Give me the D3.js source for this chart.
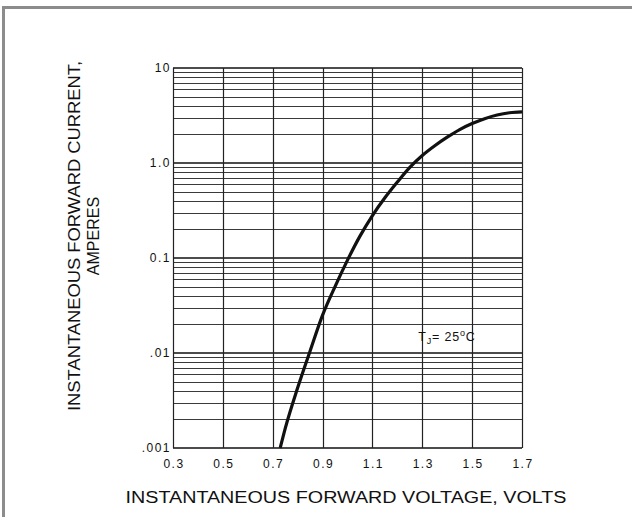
<!DOCTYPE html>
<html>
<head>
<meta charset="utf-8">
<script src="https://cdn.jsdelivr.net/npm/d3@7"></script>
<style>
  body { margin: 0; background: #fff; }
  svg text { font-family: "Liberation Sans", Arial, sans-serif; }
</style>
</head>
<body>
<svg id="chart" width="632" height="517"></svg>
<script>
// forward voltage (V) vs instantaneous forward current (A)
var voltage = [0.73, 0.75, 0.80, 0.85, 0.90, 0.95, 1.00, 1.05, 1.10, 1.15, 1.20, 1.25, 1.30, 1.35, 1.40, 1.45, 1.50, 1.55, 1.60, 1.65, 1.70];
var current = [0.001, 0.0016, 0.0043, 0.0105, 0.025, 0.05, 0.095, 0.17, 0.28, 0.43, 0.63, 0.9, 1.2, 1.52, 1.87, 2.25, 2.6, 2.93, 3.2, 3.38, 3.45];

var xTicks = [0.3, 0.5, 0.7, 0.9, 1.1, 1.3, 1.5, 1.7];
var yDecades = [0.001, 0.01, 0.1, 1, 10];
var yTickLabels = [".001", ".01", "0.1", "1.0", "10"];

var margin = {top: 68, right: 110, bottom: 69, left: 173};
var width = 632 - margin.left - margin.right;
var height = 517 - margin.top - margin.bottom;

var svg = d3.select("#chart");

// outer frame
svg.append("rect")
  .attr("x", 3.5).attr("y", 7.5)
  .attr("width", 640).attr("height", 530)
  .attr("fill", "none")
  .attr("stroke", "#8c8c8c")
  .attr("stroke-width", 3);

var g = svg.append("g")
  .attr("transform", "translate(" + margin.left + "," + margin.top + ")");

var x = d3.scaleLinear().domain([0.3, 1.7]).range([0, width]);
var y = d3.scaleLog().domain([0.001, 10]).range([height, 0]);

// horizontal grid: 2..9 in every decade
var minor = [];
yDecades.slice(0, -1).forEach(function(d) {
  for (var k = 2; k <= 9; k++) minor.push(d * k);
});

g.selectAll(".hminor").data(minor).enter().append("line")
  .attr("x1", 0).attr("x2", width)
  .attr("y1", function(d) { return Math.round(y(d)) + 0.5; })
  .attr("y2", function(d) { return Math.round(y(d)) + 0.5; })
  .attr("stroke", "#3a3a3a").attr("stroke-width", 1);

g.selectAll(".hmajor").data(yDecades).enter().append("line")
  .attr("x1", 0).attr("x2", width)
  .attr("y1", function(d) { return y(d); })
  .attr("y2", function(d) { return y(d); })
  .attr("stroke", "#111").attr("stroke-width", 1.6);

// vertical grid
g.selectAll(".vgrid").data(xTicks).enter().append("line")
  .attr("x1", function(d) { return Math.round(x(d)) + 0.5; })
  .attr("x2", function(d) { return Math.round(x(d)) + 0.5; })
  .attr("y1", 0).attr("y2", height)
  .attr("stroke", "#222").attr("stroke-width", 1.2);

// axis labels
g.selectAll(".xlab").data(xTicks).enter().append("text")
  .attr("x", function(d) { return x(d) + 1; })
  .attr("y", height + 20)
  .attr("text-anchor", "middle")
  .attr("font-size", "12px")
  .attr("letter-spacing", "1.5px")
  .attr("fill", "#111")
  .text(function(d) { return d.toFixed(1); });

g.selectAll(".ylab").data(yDecades).enter().append("text")
  .attr("x", -2)
  .attr("y", function(d) { return y(d) + 4; })
  .attr("text-anchor", "end")
  .attr("font-size", "12px")
  .attr("letter-spacing", "1.5px")
  .attr("fill", "#111")
  .text(function(d, i) { return yTickLabels[i]; });

// curve
var line = d3.line()
  .curve(d3.curveMonotoneX)
  .x(function(d, i) { return x(voltage[i]); })
  .y(function(d) { return y(d); });

g.append("path")
  .datum(current)
  .attr("d", line)
  .attr("fill", "none")
  .attr("stroke", "#111")
  .attr("stroke-width", 3.2);

// junction temperature note
var note = g.append("text")
  .attr("x", x(1.3) - 4)
  .attr("y", y(0.0135))
  .attr("font-size", "12.5px")
  .attr("letter-spacing", "0.8px")
  .attr("fill", "#111");
note.append("tspan").text("T");
note.append("tspan").attr("font-size", "9px").attr("dy", 3).text("J");
note.append("tspan").attr("dy", -3).text("= 25");
note.append("tspan").attr("font-size", "9px").attr("dy", -5).text("o");
note.append("tspan").attr("dy", 5).text("C");

// titles
svg.append("text")
  .attr("x", 346).attr("y", 503)
  .attr("text-anchor", "middle")
  .attr("font-size", "16px")
  .attr("fill", "#111")
  .attr("textLength", 441)
  .attr("lengthAdjust", "spacingAndGlyphs")
  .text("INSTANTANEOUS FORWARD VOLTAGE, VOLTS");

var yt = svg.append("g").attr("transform", "translate(0,236) rotate(-90)");
yt.append("text")
  .attr("x", 0).attr("y", 80)
  .attr("text-anchor", "middle")
  .attr("font-size", "16px")
  .attr("fill", "#111")
  .attr("textLength", 350)
  .attr("lengthAdjust", "spacingAndGlyphs")
  .text("INSTANTANEOUS FORWARD CURRENT,");
yt.append("text")
  .attr("x", 0).attr("y", 99)
  .attr("text-anchor", "middle")
  .attr("font-size", "16px")
  .attr("fill", "#111")
  .text("AMPERES");
</script>
</body>
</html>
